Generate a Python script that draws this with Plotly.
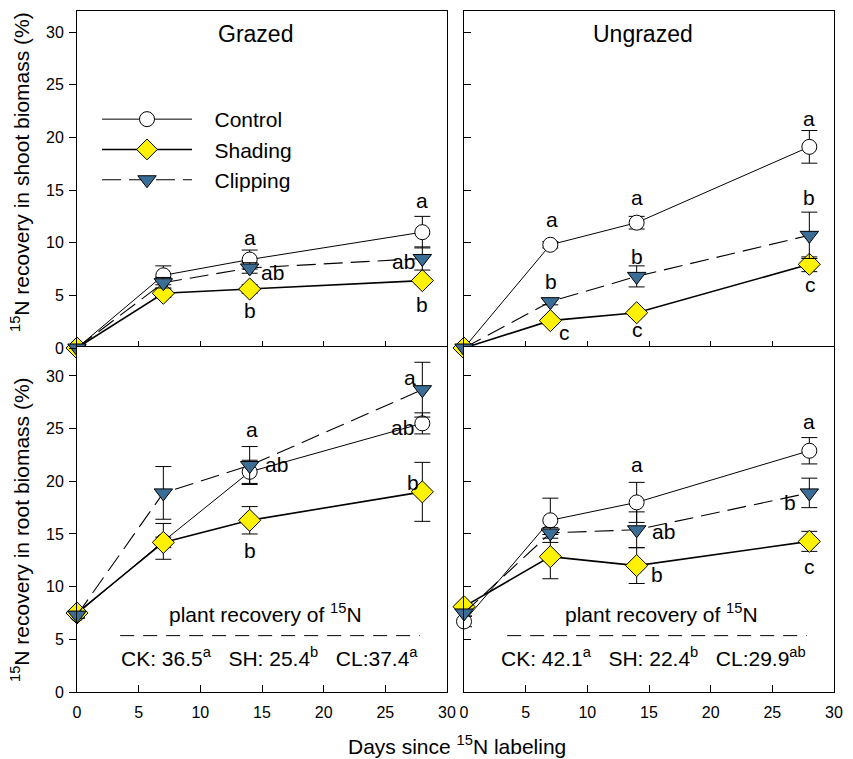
import plotly.graph_objects as go

# ---------------- data ----------------
days = [0, 7, 14, 28]
series_names = ["Control", "Shading", "Clipping"]

shoot_grazed_control = [0, 6.9, 8.4, 11.0]
shoot_grazed_control_err = [0, 0.9, 0.9, 1.5]
shoot_grazed_shading = [0, 5.2, 5.6, 6.4]
shoot_grazed_shading_err = [0, 0.4, 0.4, 0.3]
shoot_grazed_clipping = [0, 6.2, 7.6, 8.5]
shoot_grazed_clipping_err = [0, 0.5, 0.5, 1.1]

shoot_ungrazed_control = [0, 9.8, 11.9, 19.1]
shoot_ungrazed_control_err = [0, 0.3, 0.6, 1.55]
shoot_ungrazed_shading = [0, 2.6, 3.35, 7.95]
shoot_ungrazed_shading_err = [0, 0.3, 0.3, 0.7]
shoot_ungrazed_clipping = [0, 4.4, 6.8, 10.7]
shoot_ungrazed_clipping_err = [0, 0.3, 1.0, 2.2]

root_grazed_control = [7.4, 14.3, 20.9, 25.5]
root_grazed_control_err = [0.3, 1.7, 1.1, 1.0]
root_grazed_shading = [7.5, 14.2, 16.3, 19.0]
root_grazed_shading_err = [0.3, 0.5, 1.3, 2.8]
root_grazed_clipping = [7.3, 18.9, 21.5, 28.7]
root_grazed_clipping_err = [0.3, 2.5, 1.8, 2.6]

root_ungrazed_control = [6.7, 16.3, 18.0, 22.9]
root_ungrazed_control_err = [0.5, 2.1, 1.9, 1.25]
root_ungrazed_shading = [8.1, 12.85, 12.0, 14.3]
root_ungrazed_shading_err = [0.3, 2.1, 1.7, 0.95]
root_ungrazed_clipping = [7.5, 15.1, 15.4, 18.9]
root_ungrazed_clipping_err = [0.3, 0.5, 1.7, 1.4]

panel_titles = ["Grazed", "Ungrazed"]
recovery_grazed = ["CK: 36.5", "a", "SH: 25.4", "b", "CL:37.4", "a"]
recovery_ungrazed = ["CK: 42.1", "a", "SH: 22.4", "b", "CL:29.9", "ab"]
x_ticks = [0, 5, 10, 15, 20, 25, 30]
y_ticks = [0, 5, 10, 15, 20, 25, 30]

# significance letters: (panel, series, day index, text, dx px, dy px)
letters = [
    (1, "Control", 2, "a", 0, 22), (1, "Clipping", 2, "ab", 23, -5), (1, "Shading", 2, "b", 0, -21),
    (1, "Control", 3, "a", 0, 32), (1, "Clipping", 3, "ab", -19, -3), (1, "Shading", 3, "b", 0, -24),
    (2, "Control", 1, "a", 2, 25), (2, "Clipping", 1, "b", 1, 20), (2, "Shading", 1, "c", 14, -12),
    (2, "Control", 2, "a", 0, 25), (2, "Clipping", 2, "b", 0, 20), (2, "Shading", 2, "c", 1, -17),
    (2, "Control", 3, "a", 0, 28), (2, "Clipping", 3, "b", 0, 38), (2, "Shading", 3, "c", 1, -20),
    (3, "Clipping", 2, "a", 2, 36), (3, "Control", 2, "ab", 27, 7), (3, "Shading", 2, "b", 0, -30),
    (3, "Clipping", 3, "a", -12, 12), (3, "Control", 3, "ab", -20, -4), (3, "Shading", 3, "b", -9, 9),
    (4, "Control", 2, "a", 0, 38), (4, "Clipping", 2, "ab", 27, -2), (4, "Shading", 2, "b", 20, -9),
    (4, "Control", 3, "a", 0, 29), (4, "Clipping", 3, "b", -19, -10), (4, "Shading", 3, "c", 0, -25),
]

panels = {
    1: {"Control": (shoot_grazed_control, shoot_grazed_control_err),
        "Shading": (shoot_grazed_shading, shoot_grazed_shading_err),
        "Clipping": (shoot_grazed_clipping, shoot_grazed_clipping_err)},
    2: {"Control": (shoot_ungrazed_control, shoot_ungrazed_control_err),
        "Shading": (shoot_ungrazed_shading, shoot_ungrazed_shading_err),
        "Clipping": (shoot_ungrazed_clipping, shoot_ungrazed_clipping_err)},
    3: {"Control": (root_grazed_control, root_grazed_control_err),
        "Shading": (root_grazed_shading, root_grazed_shading_err),
        "Clipping": (root_grazed_clipping, root_grazed_clipping_err)},
    4: {"Control": (root_ungrazed_control, root_ungrazed_control_err),
        "Shading": (root_ungrazed_shading, root_ungrazed_shading_err),
        "Clipping": (root_ungrazed_clipping, root_ungrazed_clipping_err)},
}

# ---------------- styles ----------------
FONT = "Liberation Sans, Arial, sans-serif"
YELLOW = "#FFF200"
BLUE = "#3B6E96"
styles = {
    "Control": dict(marker=dict(symbol="circle", size=15, color="white", line=dict(color="black", width=1)),
                    line=dict(color="black", width=1)),
    "Shading": dict(marker=dict(symbol="diamond", size=17, color=YELLOW, line=dict(color="black", width=1)),
                    line=dict(color="black", width=1.6)),
    "Clipping": dict(marker=dict(symbol="triangle-down", size=16, color=BLUE, line=dict(color="black", width=1)),
                     line=dict(color="black", width=1.1, dash="19px,8px")),
}

W, H = 853, 759
def px_x(a, b):
    return [a / W, b / W]
def px_y(top, bottom):
    return [(H - bottom) / H, (H - top) / H]

fig = go.Figure()
axis_ids = {1: ("x", "y"), 2: ("x2", "y2"), 3: ("x3", "y3"), 4: ("x4", "y4")}

for p in [1, 2, 3, 4]:
    xa, ya = axis_ids[p]
    for name in series_names:
        vals, errs = panels[p][name]
        st = styles[name]
        fig.add_trace(go.Scatter(
            x=days, y=vals, xaxis=xa, yaxis=ya, mode="lines+markers",
            name="\u00a0\u00a0\u00a0" + name, showlegend=(p == 1),
            line=st["line"], marker=st["marker"], cliponaxis=False,
            error_y=dict(type="data", array=errs, visible=True, color="black", thickness=1, width=8),
        ))

# letters
for p, name, idx, txt, dx, dy in letters:
    xa, ya = axis_ids[p]
    vals = panels[p][name][0]
    fig.add_annotation(x=days[idx], y=vals[idx], xref=xa, yref=ya, text=txt, showarrow=False,
                       xshift=dx, yshift=dy, font=dict(family=FONT, size=21, color="black"),
                       xanchor="center", yanchor="middle")

# panel titles
for p, t in zip([1, 2], panel_titles):
    xa, ya = axis_ids[p]
    fig.add_annotation(x=14.5, y=29.8, xref=xa, yref=ya, text=t, showarrow=False,
                       xanchor="center", yanchor="middle",
                       font=dict(family=FONT, size=23, color="black"))

# plant recovery blocks
def rec_text(lst):
    parts = []
    for i in range(0, len(lst), 2):
        parts.append(lst[i] + "<sup>" + lst[i + 1] + "</sup>")
    return ("\u00a0\u00a0\u00a0").join(parts)

for p, lst, xc_title, xc_text in [(3, recovery_grazed, 15.3, 15.6), (4, recovery_ungrazed, 16.0, 15.4)]:
    xa, ya = axis_ids[p]
    fig.add_annotation(x=xc_title, y=7.5, xref=xa, yref=ya, text="plant recovery of <sup>15</sup>N",
                       showarrow=False, xanchor="center", yanchor="middle",
                       font=dict(family=FONT, size=21, color="black"))
    fig.add_shape(type="line", x0=3.5, x1=27.8, y0=5.35, y1=5.35, xref=xa, yref=ya,
                  line=dict(color="black", width=1, dash="14px,9px"))
    fig.add_annotation(x=xc_text, y=3.3, xref=xa, yref=ya, text=rec_text(lst),
                       showarrow=False, xanchor="center", yanchor="middle",
                       font=dict(family=FONT, size=21, color="black"))

# axis titles
fig.add_annotation(x=20 / W, y=(H - 172) / H, xref="paper", yref="paper", textangle=-90,
                   xanchor="center", yanchor="middle",
                   text="<sup>15</sup>N recovery in shoot biomass (%)", showarrow=False,
                   font=dict(family=FONT, size=21, color="black"))
fig.add_annotation(x=20 / W, y=(H - 530) / H, xref="paper", yref="paper", textangle=-90,
                   xanchor="center", yanchor="middle",
                   text="<sup>15</sup>N recovery in root biomass (%)", showarrow=False,
                   font=dict(family=FONT, size=21, color="black"))
fig.add_annotation(x=457 / W, y=(H - 745) / H, xref="paper", yref="paper",
                   xanchor="center", yanchor="middle",
                   text="Days since <sup>15</sup>N labeling", showarrow=False,
                   font=dict(family=FONT, size=21, color="black"))

common_axis = dict(showline=True, linecolor="black", linewidth=1, mirror=True, showgrid=False,
                   zeroline=False, tickcolor="black", ticklen=7, tickwidth=1, automargin=False,
                   tickfont=dict(family=FONT, size=16, color="black"))

left_x = px_x(77, 447)
right_x = px_x(464, 834)
top_y = px_y(11, 348)
bot_y = px_y(347, 692)

fig.update_layout(
    width=W, height=H, margin=dict(l=0, r=0, t=0, b=0, pad=0),
    paper_bgcolor="white", plot_bgcolor="white",
    font=dict(family=FONT, size=16, color="black"),
    showlegend=True,
    legend=dict(x=97 / W, y=(H - 99) / H, xanchor="left", yanchor="top", bgcolor="rgba(0,0,0,0)",
                font=dict(family=FONT, size=21, color="black"), itemwidth=90, tracegroupgap=0),
    xaxis=dict(domain=left_x, range=[0, 30], tickvals=x_ticks, ticks="inside", showticklabels=False,
               anchor="y", **common_axis),
    yaxis=dict(domain=top_y, range=[0, 32], tickvals=y_ticks, ticks="outside", anchor="x",
               ticklabelstandoff=2, **common_axis),
    xaxis2=dict(domain=right_x, range=[0, 30], tickvals=x_ticks, ticks="inside", showticklabels=False,
                anchor="y2", **common_axis),
    yaxis2=dict(domain=top_y, range=[0, 32], tickvals=y_ticks, ticks="inside", showticklabels=False,
                anchor="x2", **common_axis),
    xaxis3=dict(domain=left_x, range=[0, 30], tickvals=x_ticks, ticks="inside", anchor="y3",
                ticklabelstandoff=6, **common_axis),
    yaxis3=dict(domain=bot_y, range=[0, 32.75], tickvals=y_ticks, ticks="outside", anchor="x3",
                ticklabelstandoff=2, **common_axis),
    xaxis4=dict(domain=right_x, range=[0, 30], tickvals=x_ticks, ticks="inside", anchor="y4",
                ticklabelstandoff=6, **common_axis),
    yaxis4=dict(domain=bot_y, range=[0, 32.75], tickvals=y_ticks, ticks="inside", showticklabels=False,
                anchor="x4", **common_axis),
)

fig.write_html("out.html", config={"displayModeBar": False},
               post_script="document.body.style.margin='0';document.body.style.overflow='hidden';")
